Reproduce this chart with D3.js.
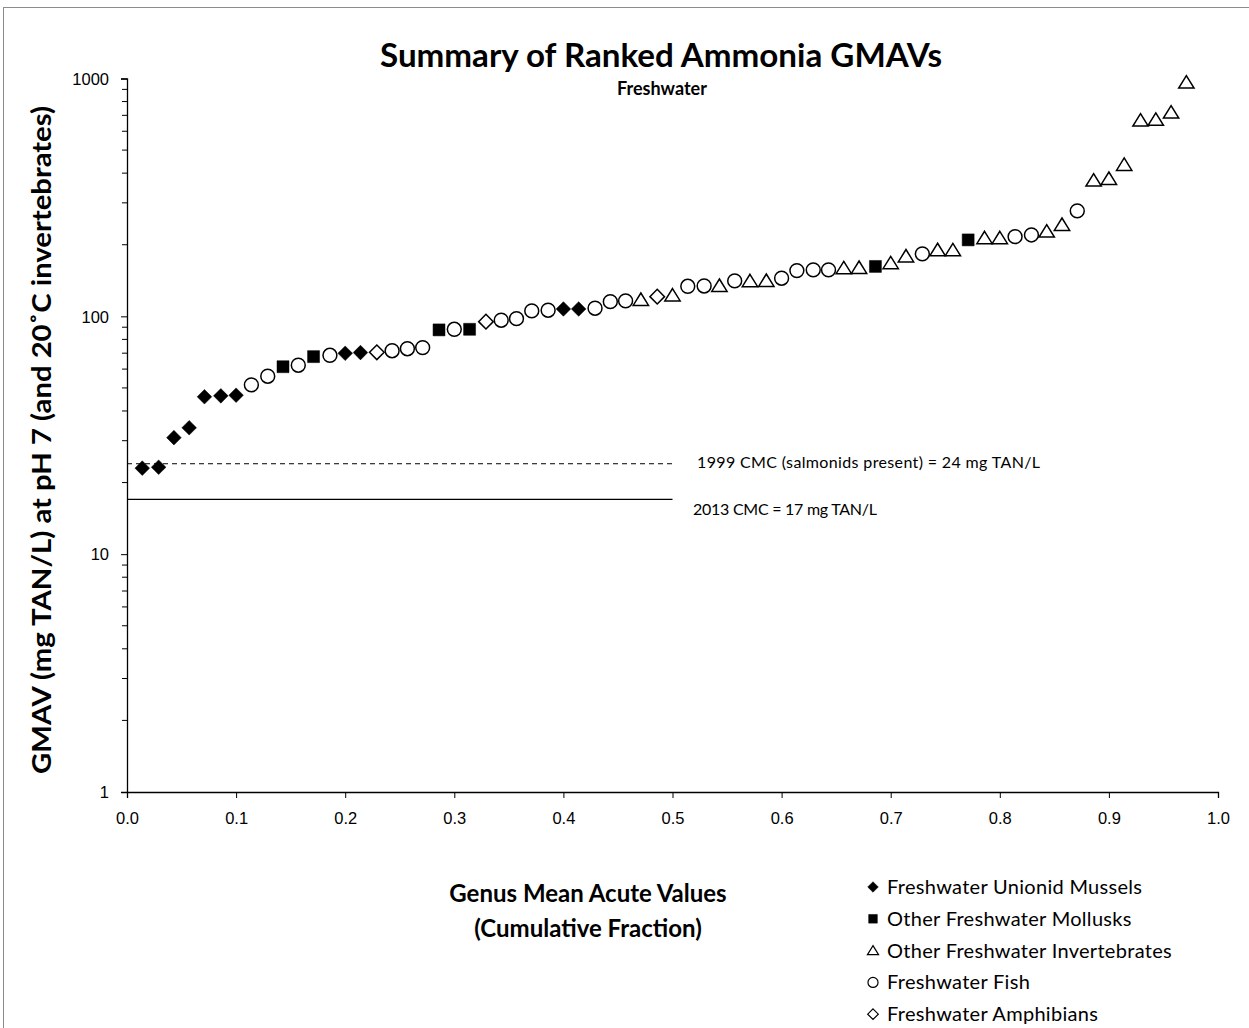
<!DOCTYPE html>
<html>
<head>
<meta charset="utf-8">
<script src="https://cdn.jsdelivr.net/npm/d3@7"></script>
<style>
  body { margin: 0; background: #fff; }
  svg { display: block; font-family: Lato, "Noto Sans", sans-serif; }
</style>
</head>
<body>
<div id="chartContainer"></div>
<script>
// cumulative fraction (rank / (N + 1))
const fractions = [
  0.014, 0.029, 0.043, 0.057, 0.071, 0.086, 0.100, 0.114, 0.129, 0.143,
  0.157, 0.171, 0.186, 0.200, 0.214, 0.229, 0.243, 0.257, 0.271, 0.286,
  0.300, 0.314, 0.329, 0.343, 0.357, 0.371, 0.386, 0.400, 0.414, 0.429,
  0.443, 0.457, 0.471, 0.486, 0.500, 0.514, 0.529, 0.543, 0.557, 0.571,
  0.586, 0.600, 0.614, 0.629, 0.643, 0.657, 0.671, 0.686, 0.700, 0.714,
  0.729, 0.743, 0.757, 0.771, 0.786, 0.800, 0.814, 0.829, 0.843, 0.857,
  0.871, 0.886, 0.900, 0.914, 0.929, 0.943, 0.957, 0.971
];

// GMAV, mg TAN/L
const gmavs = [
  23.0, 23.2, 30.9, 34.0, 45.9, 46.3, 46.6, 51.5, 56.0, 61.4,
  62.3, 67.7, 68.6, 69.9, 70.4, 70.6, 71.7, 73.1, 73.9, 87.7,
  88.2, 88.2, 95.0, 96.3, 97.8, 105.4, 106.1, 107.4, 107.4, 108.2,
  115.3, 116.1, 117.2, 121.0, 122.4, 133.8, 134.2, 134.2, 140.9, 140.5,
  140.9, 144.6, 155.7, 156.7, 156.7, 159.3, 159.8, 162.1, 167.2, 178.6,
  183.0, 189.7, 189.5, 209.6, 213.0, 213.0, 216.3, 219.9, 227.1, 242.3,
  277.5, 372.0, 378.2, 433.2, 665.3, 669.8, 719.0, 961.0
];

// D = unionid mussel, S = other mollusk, T = other invertebrate, F = fish, A = amphibian
const groups = [
  "D", "D", "D", "D", "D", "D", "D", "F", "F", "S",
  "F", "S", "F", "D", "D", "A", "F", "F", "F", "S",
  "F", "S", "A", "F", "F", "F", "F", "D", "D", "F",
  "F", "F", "T", "A", "T", "F", "F", "T", "F", "T",
  "T", "F", "F", "F", "F", "T", "T", "S", "T", "T",
  "F", "T", "T", "S", "T", "T", "F", "F", "T", "T",
  "F", "T", "T", "T", "T", "T", "T", "T"
];

const legendKeys = ["D", "S", "T", "F", "A"];
const legendLabels = [
  "Freshwater Unionid Mussels",
  "Other Freshwater Mollusks",
  "Other Freshwater Invertebrates",
  "Freshwater Fish",
  "Freshwater Amphibians"
];

const xTicks = [0, 0.1, 0.2, 0.3, 0.4, 0.5, 0.6, 0.7, 0.8, 0.9, 1.0];
const yTicks = [1, 10, 100, 1000];

const cmc1999 = 24;
const cmc2013 = 17;

const width = 1249, height = 1028;
const margin = { left: 127, right: 31, top: 78.5, bottom: 236 };

const svg = d3.select("#chartContainer")
  .append("svg")
  .attr("width", width)
  .attr("height", height);

// outer chart border
svg.append("rect")
  .attr("x", 3.5).attr("y", 7.5)
  .attr("width", width).attr("height", height)
  .attr("fill", "none").attr("stroke", "#8c8c8c").attr("stroke-width", 1);

const x = d3.scaleLinear()
  .domain([0, 1])
  .range([margin.left, width - margin.right]);

const y = d3.scaleLog()
  .domain([1, 1000])
  .range([height - margin.bottom, margin.top]);

// marker paths centred on 0,0
function markerPath(type, s) {
  const p = d3.path();
  if (type === "D" || type === "A") {
    p.moveTo(0, -s); p.lineTo(s, 0); p.lineTo(0, s); p.lineTo(-s, 0); p.closePath();
  } else if (type === "S") {
    const h = s * 0.82;
    p.rect(-h, -h, 2 * h, 2 * h);
  } else if (type === "T") {
    const w = s * 1.05;
    p.moveTo(0, -s * 0.95); p.lineTo(w, s * 0.75); p.lineTo(-w, s * 0.75); p.closePath();
  } else {
    p.arc(0, 0, s * 0.95, 0, Math.PI * 2);
  }
  return p.toString();
}
const filled = t => t === "D" || t === "S";

// axes
const yAxis = svg.append("g")
  .attr("transform", "translate(" + margin.left + ",0)")
  .call(d3.axisLeft(y).tickValues(yTicks).tickFormat(d3.format("d")).tickSize(6).tickPadding(12));

// log minor ticks
const minor = [];
[1, 10, 100].forEach(dec => { for (let k = 2; k <= 9; k++) minor.push(dec * k); });
yAxis.selectAll(".minor")
  .data(minor)
  .enter()
  .append("line")
  .attr("class", "minor")
  .attr("x1", -5).attr("x2", 0)
  .attr("y1", d => y(d)).attr("y2", d => y(d))
  .attr("stroke", "#000");

const xAxis = svg.append("g")
  .attr("transform", "translate(0," + (height - margin.bottom) + ")")
  .call(d3.axisBottom(x).tickValues(xTicks).tickFormat(d3.format(".1f")).tickSize(6).tickPadding(14));

[yAxis, xAxis].forEach(g => {
  g.select(".domain").attr("stroke", "#000").attr("stroke-width", 1.3);
  g.selectAll(".tick line").attr("stroke", "#000");
  g.selectAll(".tick text").attr("font-size", 16.5).attr("fill", "#000");
});
yAxis.selectAll(".tick text").attr("dy", "0.35em");

// CMC reference lines
svg.append("line")
  .attr("x1", x(0)).attr("x2", x(0.5))
  .attr("y1", y(cmc1999)).attr("y2", y(cmc1999))
  .attr("stroke", "#000").attr("stroke-width", 1).attr("stroke-dasharray", "5,4");
svg.append("line")
  .attr("x1", x(0)).attr("x2", x(0.5))
  .attr("y1", y(cmc2013)).attr("y2", y(cmc2013))
  .attr("stroke", "#000").attr("stroke-width", 1.3);

svg.append("text")
  .attr("x", 697).attr("y", y(cmc1999) + 4)
  .attr("font-size", 16)
  .attr("textLength", 343)
  .text("1999 CMC (salmonids present) = " + cmc1999 + " mg TAN/L");
svg.append("text")
  .attr("x", 693).attr("y", y(cmc2013) + 16)
  .attr("font-size", 16)
  .attr("textLength", 184)
  .text("2013 CMC = " + cmc2013 + " mg TAN/L");

// data points
const points = fractions.map((f, i) => ({ f: f, v: gmavs[i], g: groups[i] }));
svg.append("g")
  .selectAll("path")
  .data(points)
  .enter()
  .append("path")
  .attr("transform", d => "translate(" + x(d.f) + "," + y(d.v) + ")")
  .attr("d", d => markerPath(d.g, 7.3))
  .attr("fill", d => filled(d.g) ? "#000" : "#fff")
  .attr("stroke", "#000")
  .attr("stroke-width", d => filled(d.g) ? 0.5 : 1.5);

// titles
svg.append("text")
  .attr("x", 661).attr("y", 67)
  .attr("text-anchor", "middle")
  .attr("font-size", 32).attr("font-weight", "bold")
  .attr("textLength", 562).attr("lengthAdjust", "spacingAndGlyphs")
  .text("Summary of Ranked Ammonia GMAVs");
svg.append("text")
  .attr("x", 662).attr("y", 95)
  .attr("text-anchor", "middle")
  .attr("font-size", 18).attr("font-weight", "bold")
  .text("Freshwater");

svg.append("text")
  .attr("transform", "translate(51,440) rotate(-90)")
  .attr("text-anchor", "middle")
  .attr("font-size", 26).attr("font-weight", "bold")
  .attr("textLength", 668).attr("lengthAdjust", "spacingAndGlyphs")
  .text("GMAV (mg TAN/L) at pH 7 (and 20˚C invertebrates)");

const xTitle = svg.append("text")
  .attr("text-anchor", "middle")
  .attr("font-size", 24).attr("font-weight", "bold");
xTitle.append("tspan").attr("x", 588).attr("y", 902).text("Genus Mean Acute Values");
xTitle.append("tspan").attr("x", 588).attr("y", 937).text("(Cumulative Fraction)");

// legend
const legend = svg.append("g").attr("transform", "translate(873,887)");
const rows = legend.selectAll("g")
  .data(legendKeys)
  .enter()
  .append("g")
  .attr("transform", (d, i) => "translate(0," + (i * 31.8) + ")");
rows.append("path")
  .attr("d", d => markerPath(d, 5.3))
  .attr("fill", d => filled(d) ? "#000" : "#fff")
  .attr("stroke", "#000")
  .attr("stroke-width", d => filled(d) ? 0.5 : 1.2);
rows.append("text")
  .attr("x", 14).attr("y", 7)
  .attr("font-size", 20)
  .attr("letter-spacing", 0.3)
  .text((d, i) => legendLabels[i]);
</script>
</body>
</html>
